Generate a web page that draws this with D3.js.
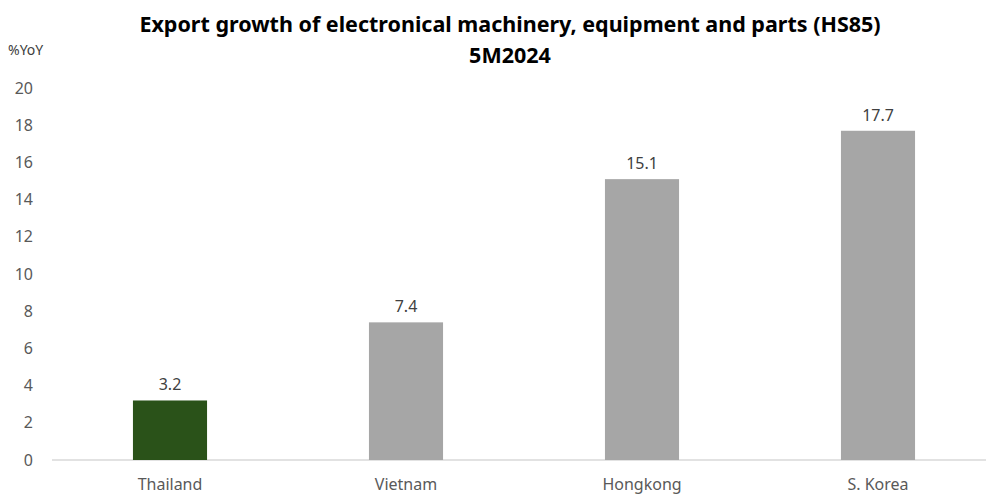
<!DOCTYPE html>
<html><head><meta charset="utf-8">
<script src="https://cdn.jsdelivr.net/npm/d3@7"></script>
<style>body{margin:0;background:#fff;} svg{display:block;}</style>
</head><body>
<svg id="c" width="986" height="495"></svg>
<script>
const categories = ["Thailand", "Vietnam", "Hongkong", "S. Korea"];
const values = [3.2, 7.4, 15.1, 17.7];
const yTicks = [0, 2, 4, 6, 8, 10, 12, 14, 16, 18, 20];
const titleLines = ["Export growth of electronical machinery, equipment and parts (HS85)", "5M2024"];
const yUnit = "%YoY";

const svg = d3.select("#c");
const x = d3.scaleBand().domain(categories).range([52, 996]).paddingInner(0.686).paddingOuter(0.343);
const y = d3.scaleLinear().domain([0, 20]).range([460, 88]);
const font = "'Noto Sans', sans-serif";

svg.append("g").selectAll("text").data(yTicks).join("text")
  .attr("x", 33).attr("y", d => y(d)).attr("dy", "0.35em")
  .attr("text-anchor", "end").attr("font-family", font).attr("font-size", 16)
  .attr("fill", "#595959").text(d => d);

svg.append("line").attr("x1", 52).attr("x2", 986).attr("y1", y(0)).attr("y2", y(0))
  .attr("stroke", "#d9d9d9").attr("stroke-width", 1.5);

svg.append("g").selectAll("rect").data(values).join("rect")
  .attr("x", (d, i) => x(categories[i])).attr("width", x.bandwidth())
  .attr("y", d => y(d)).attr("height", d => y(0) - y(d))
  .attr("fill", (d, i) => i === 0 ? "#2a5219" : "#a6a6a6");

svg.append("g").selectAll("text").data(values).join("text")
  .attr("x", (d, i) => x(categories[i]) + x.bandwidth() / 2).attr("y", d => y(d) - 10)
  .attr("text-anchor", "middle").attr("font-family", font).attr("font-size", 16)
  .attr("fill", "#404040").text(d => d.toFixed(1));

svg.append("g").selectAll("text").data(categories).join("text")
  .attr("x", d => x(d) + x.bandwidth() / 2).attr("y", 490)
  .attr("text-anchor", "middle").attr("font-family", font).attr("font-size", 16)
  .attr("fill", "#595959").text(d => d);

svg.append("g").selectAll("text").data(titleLines).join("text")
  .attr("x", 510).attr("y", (d, i) => 32 + i * 31)
  .attr("text-anchor", "middle").attr("font-family", font).attr("font-weight", "bold")
  .attr("font-size", 21.5).attr("fill", "#000").text(d => d);

svg.append("text").attr("x", 8).attr("y", 55).attr("font-family", font)
  .attr("font-size", 14).attr("fill", "#404040").text(yUnit);
</script>
</body></html>
